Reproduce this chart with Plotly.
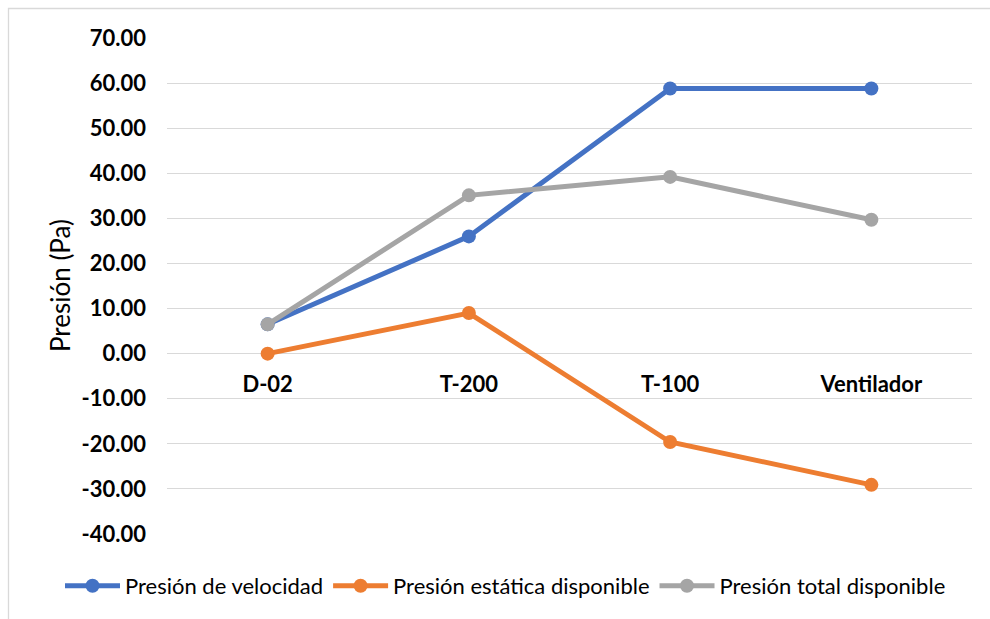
import plotly.graph_objects as go

# Puntos del sistema de ductos
categorias = ["D-02", "T-200", "T-100", "Ventilador"]

# Presiones en Pa
presion_velocidad = [6.5, 26.0, 58.8, 58.8]
presion_estatica = [0.0, 9.0, -19.6, -29.1]
presion_total = [6.5, 35.1, 39.2, 29.7]

# Marcas del eje vertical
y_ticks = [70, 60, 50, 40, 30, 20, 10, 0, -10, -20, -30, -40]
y_ticktext = [f"{v:.2f}" for v in y_ticks]

FONT = "Lato"
W, H = 990, 619
ML, MR, MT, MB = 167, 18, 38, 85
Y_MIN, Y_MAX = -40, 70

series = [
    ("Presión de velocidad", presion_velocidad, "#4472C4"),
    ("Presión estática disponible", presion_estatica, "#ED7D31"),
    ("Presión total disponible", presion_total, "#A5A5A5"),
]

fig = go.Figure()
for nombre, valores, color in series:
    fig.add_trace(go.Scatter(
        x=categorias, y=valores, name=nombre,
        mode="lines+markers",
        line=dict(color=color, width=5),
        marker=dict(color=color, size=14),
        cliponaxis=False,
    ))

# Conversión de píxeles a coordenadas de papel
pw, ph = W - ML - MR, H - MT - MB
def px_x(p):
    return (p - ML) / pw
def px_y(p):
    return 1 - (p - MT) / ph

# Marco del área del gráfico
fig.add_shape(type="rect", xref="paper", yref="paper",
              x0=px_x(8.5), x1=px_x(1010), y0=px_y(8.5), y1=px_y(640),
              line=dict(color="#D9D9D9", width=1.3), fillcolor="rgba(0,0,0,0)",
              layer="below")

# Título del eje vertical
fig.add_annotation(
    text="Presión (Pa)", xref="paper", yref="paper",
    x=px_x(60), y=0.5, xanchor="center", yanchor="middle",
    textangle=-90, showarrow=False,
    font=dict(family=FONT, size=26, color="#000000"),
)

fig.update_layout(
    width=W, height=H,
    margin=dict(l=ML, r=MR, t=MT, b=MB, autoexpand=False),
    paper_bgcolor="white", plot_bgcolor="white",
    font=dict(family=FONT, color="#000000"),
    showlegend=True,
    legend=dict(
        orientation="h", xref="paper", yref="paper",
        x=px_x(60), xanchor="left", y=px_y(586), yanchor="middle",
        font=dict(family=FONT, size=22, color="#000000"),
        itemwidth=55, bgcolor="rgba(0,0,0,0)",
    ),
    xaxis=dict(
        type="category", range=[-0.5, 3.5],
        anchor="free", position=(0 - Y_MIN) / (Y_MAX - Y_MIN),
        showgrid=False, showline=False, zeroline=False, ticks="",
        ticklabelstandoff=15,
        tickfont=dict(family=FONT, size=22, color="#000000", weight="bold"),
    ),
    yaxis=dict(
        range=[Y_MIN, Y_MAX], tickvals=y_ticks, ticktext=y_ticktext,
        showgrid=True, gridcolor="#D9D9D9", gridwidth=1,
        zeroline=False, showline=False, ticks="",
        ticklabelstandoff=20,
        tickfont=dict(family=FONT, size=22, color="#000000", weight="bold"),
        automargin=False,
    ),
)

fig.write_html("out.html")
